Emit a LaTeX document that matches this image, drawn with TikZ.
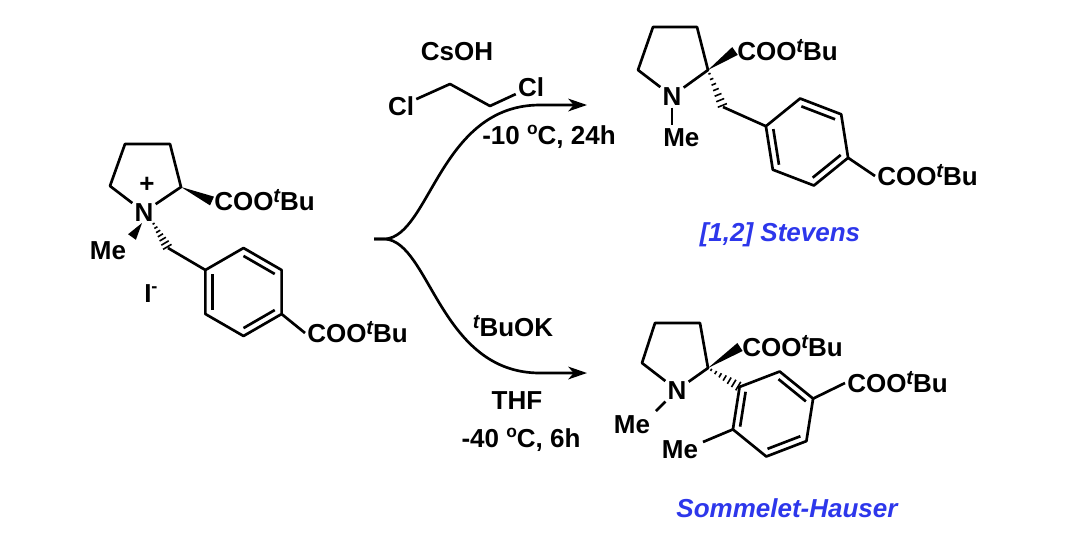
\documentclass[tikz,border=0pt]{standalone}
\usepackage{fontspec}
\setmainfont{Liberation Sans}
\usetikzlibrary{calc,arrows.meta}
\definecolor{labblue}{RGB}{45,55,235}
\newcommand{\chemfont}{\fontsize{19.5}{23}\selectfont\bfseries}
\newcommand{\suptee}{\raisebox{0.32em}{\fontsize{15}{15}\selectfont\bfseries\itshape t}}
\newcommand{\degsign}{\raisebox{0.38em}{\fontsize{13}{13}\selectfont\bfseries o}}
\newcommand{\hashb}[2]{%
  \foreach \hk in {1,...,7}{%
    \pgfmathsetmacro\hf{(\hk-0.3)/7}%
    \pgfmathsetmacro\hw{0.4+\hk*0.47}%
    \draw[hashline] ($(#1)!\hf!(#2)!\hw pt!90:(#2)$) -- ($(#1)!\hf!(#2)!\hw pt!-90:(#2)$);}}
\newcommand{\wedgeb}[2]{%
  \fill (#1) -- ($(#2)!3.6pt!90:(#1)$) -- ($(#2)!3.6pt!-90:(#1)$) -- cycle;}
\newcommand{\dblin}[3]{\draw[bond] ($(#1)!0.18!(#3)$) -- ($(#2)!0.18!(#3)$);}
\begin{document}
\begin{tikzpicture}[x=0.75pt,y=-0.75pt,
  bond/.style={line width=2pt,line join=round},
  hashline/.style={line width=1.2pt},
  atom/.style={font=\chemfont,inner sep=1.5pt,text height=14pt,text depth=0pt},
  reag/.style={font=\chemfont,inner sep=0pt},
  named/.style={font=\chemfont\itshape,text=labblue,inner sep=0pt},
  arr/.style={line width=2pt,-{Stealth[length=14pt,width=9.5pt,inset=4pt]}}]
\useasboundingbox (0,0) rectangle (1065,537);

% ---------- starting material ----------
\coordinate (aL) at (110,186);
\coordinate (aTL) at (125,144);
\coordinate (aTR) at (170,144);
\coordinate (a2) at (181,187);
\node[atom] (aN) at (144,212) {N};
\node[font=\chemfont,inner sep=0pt] (aplus) at (147,185) {+};
\draw[bond] (aN) -- (aL) -- (aTL) -- (aTR) -- (a2) -- (aN);
\node[atom,anchor=west] (aCOO) at (212,201) {COO\suptee Bu};
\wedgeb{a2}{aCOO.west}
\node[atom] (aMe) at (108,250) {Me};
\coordinate (an1) at (142,223);
\coordinate (amw) at (132,237);
\wedgeb{an1}{amw}
\coordinate (an2) at (152,221);
\coordinate (ach) at (168,248);
\hashb{an2}{ach}
\node[atom,anchor=west] (aI) at (142,293) {I\textsuperscript{-}};
\coordinate (bc) at (243.5,292);
\coordinate (bT) at (243.5,248);
\coordinate (bTR) at (281.6,270);
\coordinate (bBR) at (281.6,314);
\coordinate (bB) at (243.5,336);
\coordinate (bBL) at (205.4,314);
\coordinate (bTL) at (205.4,270);
\draw[bond] (ach) -- (bTL);
\draw[bond] (bT) -- (bTR) -- (bBR) -- (bB) -- (bBL) -- (bTL) -- cycle;
\dblin{bT}{bTR}{bc}
\dblin{bBR}{bB}{bc}
\dblin{bBL}{bTL}{bc}
\node[atom,anchor=west] (bCOO) at (305,333) {COO\suptee Bu};
\draw[bond] (bBR) -- (bCOO.west);

% ---------- arrows and conditions ----------
\coordinate (br) at (374,239);
\coordinate (br2) at (385,239);
\coordinate (tt) at (587,105);
\coordinate (bt) at (587,373);
\draw[arr] (br) -- (br2) .. controls (430,236) and (440,105) .. (540,105) -- (tt);
\draw[arr] (br) -- (br2) .. controls (430,242) and (440,373) .. (540,373) -- (bt);
\node[reag] (csoh) at (457,52) {CsOH};
\node[atom] (cl1) at (401,106) {Cl};
\node[atom] (cl2) at (531,87) {Cl};
\coordinate (z1) at (450,84);
\coordinate (z2) at (490,106);
\draw[bond] (cl1) -- (z1) -- (z2) -- (cl2);
\node[reag] (cond1) at (549,137) {-10 \degsign C, 24h};
\node[reag] (tbuok) at (513,326) {\suptee BuOK};
\node[reag] (thf) at (517,401) {THF};
\node[reag] (cond2) at (521,440) {-40 \degsign C, 6h};

% ---------- Stevens product ----------
\coordinate (sL) at (638,70);
\coordinate (sTL) at (653,27);
\coordinate (sTR) at (697,27);
\coordinate (s2) at (708,70);
\node[atom] (sN) at (672,96) {N};
\draw[bond] (sN) -- (sL) -- (sTL) -- (sTR) -- (s2) -- (sN);
\node[atom,anchor=west] (sCOO) at (735,51) {COO\suptee Bu};
\wedgeb{s2}{sCOO.west}
\node[atom,anchor=west] (sMe) at (661,137) {Me};
\draw[bond] (sN) -- (sN |- sMe.north);
\coordinate (sch) at (723,107);
\hashb{s2}{sch}
\coordinate (pc) at (807,142);
\coordinate (pT) at (800.1,98.5);
\coordinate (pTR) at (841.2,114.3);
\coordinate (pBR) at (848.1,157.8);
\coordinate (pB) at (813.9,185.5);
\coordinate (pBL) at (772.8,169.7);
\coordinate (pTL) at (765.9,126.2);
\draw[bond] (sch) -- (pTL);
\draw[bond] (pT) -- (pTR) -- (pBR) -- (pB) -- (pBL) -- (pTL) -- cycle;
\dblin{pT}{pTR}{pc}
\dblin{pBR}{pB}{pc}
\dblin{pBL}{pTL}{pc}
\node[atom,anchor=west] (pCOO) at (875,176) {COO\suptee Bu};
\draw[bond] (pBR) -- (pCOO.west);
\node[named] (stev) at (780,235) {[1,2] Stevens};

% ---------- Sommelet-Hauser product ----------
\coordinate (hL) at (642,363);
\coordinate (hTL) at (655,323);
\coordinate (hTR) at (700,323);
\coordinate (h2) at (708,368);
\node[atom] (hN) at (677,390) {N};
\draw[bond] (hN) -- (hL) -- (hTL) -- (hTR) -- (h2) -- (hN);
\node[atom,anchor=west] (hCOO) at (740,347) {COO\suptee Bu};
\wedgeb{h2}{hCOO.west}
\node[atom] (hMe1) at (632,424) {Me};
\coordinate (hm1) at (656,411);
\draw[bond] (hN) -- (hm1);
\coordinate (qc) at (773,414);
\coordinate (qT) at (779.7,371.5);
\coordinate (qTR) at (813.1,398.6);
\coordinate (qBR) at (806.4,441.1);
\coordinate (qB) at (766.3,456.5);
\coordinate (qBL) at (732.9,429.4);
\coordinate (qTL) at (739.6,386.9);
\hashb{h2}{qTL}
\draw[bond] (qT) -- (qTR) -- (qBR) -- (qB) -- (qBL) -- (qTL) -- cycle;
\dblin{qT}{qTR}{qc}
\dblin{qBR}{qB}{qc}
\dblin{qBL}{qTL}{qc}
\node[atom] (hMe2) at (680,449) {Me};
\coordinate (hm2) at (703,442);
\draw[bond] (qBL) -- (hm2);
\node[atom,anchor=west] (qCOO) at (845,383) {COO\suptee Bu};
\draw[bond] (qTR) -- (qCOO.west);
\node[named] (somm) at (787,508) {Sommelet-Hauser};
\end{tikzpicture}
\end{document}
